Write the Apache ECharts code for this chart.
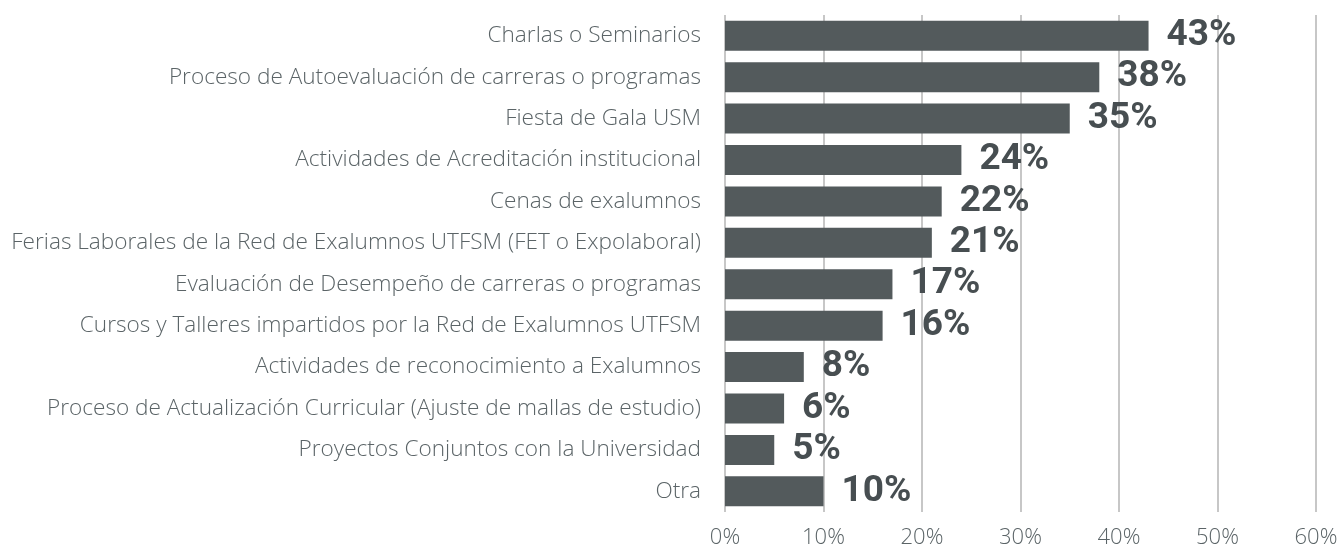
<!DOCTYPE html>
<html>
<head>
<meta charset="utf-8">
<script src="https://cdn.jsdelivr.net/npm/echarts@6/dist/echarts.min.js"></script>
<style>
  html, body { margin: 0; padding: 0; background: #ffffff; }
  #chart { width: 1343px; height: 549px; }
</style>
</head>
<body>
<div id="chart"></div>
<script>
// Activities, listed top to bottom
const categories = [
  'Charlas o Seminarios',
  'Proceso de Autoevaluación de carreras o programas',
  'Fiesta de Gala USM',
  'Actividades de Acreditación institucional',
  'Cenas de exalumnos',
  'Ferias Laborales de la Red de Exalumnos UTFSM (FET o Expolaboral)',
  'Evaluación de Desempeño de carreras o programas',
  'Cursos y Talleres impartidos por la Red de Exalumnos UTFSM',
  'Actividades de reconocimiento a Exalumnos',
  'Proceso de Actualización Curricular (Ajuste de mallas de estudio)',
  'Proyectos Conjuntos con la Universidad',
  'Otra'
];

// Share of respondents (%) for each activity
const percentages = [43, 38, 35, 24, 22, 21, 17, 16, 8, 6, 5, 10];

// Value axis range and step (%)
const axisMin = 0;
const axisMax = 60;
const axisStep = 10;

const chart = echarts.init(document.getElementById('chart'), null, { renderer: 'canvas' });

const textGrey = '#5b6467';
const barGrey = '#535a5c';
const labelGrey = '#474e51';
const gridGrey = '#b4b4b4';

chart.setOption({
  animation: false,
  backgroundColor: '#ffffff',
  grid: { left: 725, right: 27, top: 15, bottom: 36, containLabel: false },
  xAxis: {
    type: 'value',
    min: axisMin,
    max: axisMax,
    interval: axisStep,
    axisLine: { show: false },
    axisTick: { show: false },
    splitLine: { show: true, lineStyle: { color: gridGrey, width: 1.5 } },
    axisLabel: {
      formatter: '{value}%',
      color: textGrey,
      fontFamily: '"Open Sans", "Noto Sans", sans-serif',
      fontWeight: 300,
      fontSize: 22,
      margin: 15
    }
  },
  yAxis: {
    type: 'category',
    inverse: true,
    data: categories,
    axisLine: { show: false },
    axisTick: { show: false },
    axisLabel: {
      color: textGrey,
      fontFamily: '"Open Sans", "Noto Sans", sans-serif',
      fontWeight: 300,
      fontSize: 22.6,
      margin: 24
    }
  },
  series: [{
    type: 'bar',
    data: percentages,
    barWidth: 30,
    itemStyle: { color: barGrey },
    label: {
      show: true,
      position: 'right',
      distance: 18,
      formatter: p => p.value + '%',
      color: labelGrey,
      fontFamily: 'Roboto, "Noto Sans", sans-serif',
      fontWeight: 'bold',
      fontSize: 37
    }
  }]
});
</script>
</body>
</html>
